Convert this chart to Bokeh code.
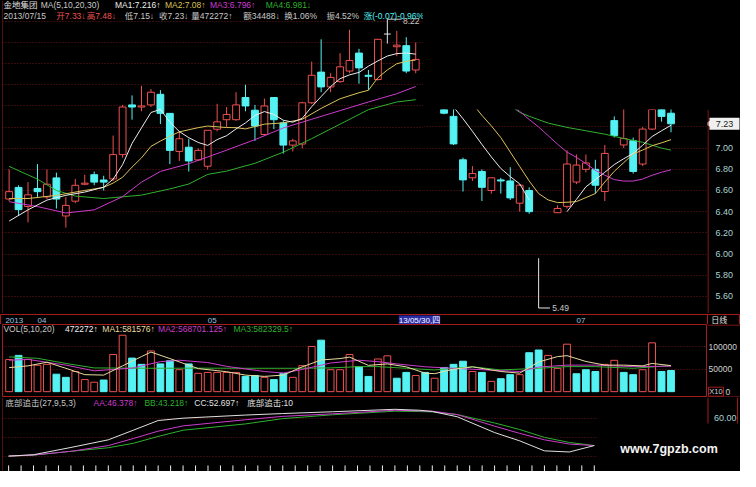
import math
from bokeh.plotting import figure
from bokeh.layouts import column, row
from bokeh.models import (ColumnDataSource, Range1d, FixedTicker, Grid, Label, Span)
from bokeh.embed import file_html
from bokeh.resources import INLINE
from bokeh.core.properties import value

nan = float("nan")

# ======================= data =======================
stock_name = "金地集团"
last_date = "2013/07/15"
amount_last = 34488
turnover_last = 1.06

opens = [
    6.52, 6.63, 6.45, 6.62, 6.54, 6.72, 6.36, 6.50, 6.66, 6.75,
    6.70, 6.71, 6.94, 7.41, 7.39, 7.41, 7.51, 7.33, 6.97, 7.01,
    6.89, 6.83, 7.18, 7.27, 7.27, 7.48, 7.36, 7.13, 7.48, 7.24,
    7.03, 7.04, 7.43, 7.72, 7.58, 7.63, 7.73, 7.90, 7.69, 7.65,
    8.08, 7.96, 7.97, 7.74, nan, nan, 7.40, 7.30, 6.89, 6.72,
    6.78, 6.60, 6.70, 6.69, 6.48, 6.60, nan, nan, 6.39, 6.45,
    6.68, 6.80, 6.80, 6.59, 7.26, 7.03, 7.07, 6.85, 7.18, 7.52,
    7.33]
highs = [
    6.80, 6.65, 6.68, 6.85, 6.80, 6.77, 6.54, 6.71, 6.75, 6.78,
    6.74, 7.12, 7.41, 7.50, 7.59, 7.56, 7.55, 7.33, 7.16, 7.09,
    7.00, 7.17, 7.42, 7.39, 7.53, 7.60, 7.41, 7.47, 7.48, 7.26,
    7.09, 7.44, 7.82, 8.03, 7.71, 7.90, 8.12, 7.94, 7.74, 8.03,
    8.22, 8.11, 8.05, 8.00, nan, nan, 7.42, 7.40, 6.91, 6.83,
    6.80, 6.72, 6.72, 6.82, 6.66, 6.63, nan, nan, 6.46, 6.98,
    6.94, 6.94, 6.89, 7.03, 7.30, 7.40, 7.10, 7.20, 7.60, 7.55,
    7.48]
lows = [
    6.50, 6.36, 6.30, 6.54, 6.52, 6.43, 6.25, 6.48, 6.65, 6.65,
    6.60, 6.69, 6.91, 7.27, 7.35, 7.39, 7.23, 6.85, 6.88, 6.78,
    6.88, 6.80, 7.16, 7.20, 7.26, 7.35, 7.07, 7.12, 7.18, 6.95,
    6.97, 7.00, 7.42, 7.53, 7.53, 7.62, 7.71, 7.61, 7.55, 7.64,
    7.99, 7.87, 7.71, 7.71, nan, nan, 7.32, 7.03, 6.59, 6.69,
    6.50, 6.57, 6.57, 6.51, 6.40, 6.38, 5.49, nan, 6.39, 6.43,
    6.66, 6.77, 6.57, 6.50, 7.10, 7.00, 6.76, 6.83, 7.17, 7.25,
    7.15]
closes = [
    6.59, 6.42, 6.56, 6.59, 6.66, 6.52, 6.46, 6.65, 6.67, 6.68,
    6.68, 6.94, 7.39, 7.39, 7.40, 7.53, 7.33, 6.98, 7.09, 6.88,
    6.98, 7.17, 7.25, 7.32, 7.41, 7.40, 7.21, 7.40, 7.27, 7.03,
    7.07, 7.43, 7.69, 7.58, 7.67, 7.77, 7.83, 7.76, 7.68, 8.03,
    8.08, 7.975, 7.73, 7.84, nan, nan, 7.33, 7.04, 6.70, 6.76,
    6.63, 6.72, 6.69, 6.53, 6.65, 6.40, nan, nan, 6.43, 6.85,
    6.84, 6.86, 6.65, 6.95, 7.12, 7.09, 6.78, 7.18, 7.55, 7.30,
    7.23]
low_wick_top = 5.96      # visible top of the lower shadow of the 5.49 day

volumes = [
    717000, 810000, 720000, 590000, 610000, 390000, 320000, 450000, 270000, 210000,
    260000, 830000, 1260000, 750000, 610000, 910000, 620000, 690000, 490000, 620000,
    410000, 430000, 430000, 430000, 430000, 340000, 360000, 320000, 270000, 410000,
    320000, 580000, 1010000, 1150000, 490000, 490000, 830000, 560000, 340000, 730000,
    800000, 300000, 430000, 360000, 430000, 300000, 540000, 610000, 680000, 450000,
    430000, 230000, 290000, 380000, 380000, 870000, 930000, 810000, 520000, 1060000,
    400000, 490000, 450000, 610000, 700000, 430000, 380000, 490000, 1090000, 450000,
    472272]
vol_up = [
    1, 0, 1, 1, 1, 0, 0, 1, 1, 1,
    0, 1, 1, 0, 0, 1, 0, 0, 1, 0,
    1, 1, 1, 1, 1, 0, 0, 1, 0, 0,
    1, 1, 1, 0, 1, 1, 1, 0, 0, 1,
    1, 0, 0, 1, 0, 1, 0, 0, 0, 1,
    0, 1, 0, 0, 1, 0, 0, 1, 1, 1,
    0, 0, 0, 1, 1, 0, 0, 1, 1, 0,
    0]

# price moving averages (nan = hidden)
ma5_bars = [0, 2, 4, 6, 8, 10, 11, 12, 13, 14, 15, 16, 17, 18, 19, 20, 21, 22, 23, 24,
            25, 26, 27, 28, 29, 30, 31, 32, 33, 34, 35, 36, 37, 38, 39, 40, 41, 42, 43,
            nan, 47, 48, 49, 50, 51, 52, 53, 54, 55,
            nan, 59, 60, 61, 62, 63, 64, 65, 66, 67, 68, 69, 70]
ma5_vals = [6.312, 6.418, 6.510, 6.555, 6.586, 6.632, 6.708, 6.845, 7.046, 7.193, 7.338, 7.368,
            7.247, 7.158, 7.100, 7.055, 7.027, 7.082, 7.119, 7.183, 7.240, 7.310, 7.347, 7.320,
            7.265, 7.247, 7.283, 7.393, 7.489, 7.584, 7.658, 7.694, 7.717, 7.776, 7.826, 7.872,
            7.895, 7.900, 7.890,
            nan, 7.390, 7.278, 7.159, 7.035, 6.917, 6.808, 6.731, 6.662, 6.511,
            nan, 6.400, 6.516, 6.635, 6.703, 6.772, 6.845, 6.900, 6.950, 7.027, 7.110, 7.164, 7.216]
ma10_bars = [0, 2, 5, 8, 10, 11, 12, 13, 14, 15, 16, 17, 18, 20, 21, 23, 24, 25, 27, 29,
             31, 33, 35, 37, 38, 39, 40, 41, 42, 43,
             nan, 49, 50, 51, 52, 53, 54, 55, 56, 57, 58, 59, 60, 62, 63, 64, 65, 66, 67, 68, 69, 70]
ma10_vals = [6.525, 6.525, 6.555, 6.601, 6.630, 6.671, 6.726, 6.822, 6.909, 7.018, 7.068, 7.114,
             7.155, 7.195, 7.210, 7.196, 7.195, 7.183, 7.228, 7.240, 7.274, 7.377, 7.468, 7.525,
             7.548, 7.667, 7.740, 7.799, 7.822, 7.834,
             nan, 7.42, 7.31, 7.21, 7.10, 6.963, 6.826, 6.69, 6.571, 6.511, 6.486, 6.489, 6.495,
             6.571, 6.68, 6.781, 6.863, 6.945, 6.982, 7.023, 7.05, 7.08]
ma20_bars = [0, 3, 6, 9, 12, 14, 16, 19, 21, 23, 26, 29, 32, 35, 38, 41, 43,
             nan, 53, 54, 55, 56, 57, 58, 59, 60, 61, 62, 63, 64, 65, 66, 67, 68, 69, 70]
ma20_vals = [6.495, 6.449, 6.388, 6.418, 6.543, 6.680, 6.781, 6.854, 6.918, 6.982, 7.082, 7.192,
             7.274, 7.356, 7.438, 7.516, 7.584,
             nan, 7.41, 7.347, 7.271, 7.20, 7.119, 7.037, 6.963, 6.913, 6.854, 6.79, 6.744, 6.703,
             6.689, 6.689, 6.708, 6.744, 6.772, 6.796]
ma30_bars = [0, 3, 5, 7, 10, 14, 17, 19, 21, 23, 26, 29, 32, 35, 38, 41, 43,
             nan, 53, 54, 55, 57, 59, 61, 63, 65, 67, 69, 70]
ma30_vals = [6.829, 6.708, 6.601, 6.548, 6.525, 6.557, 6.616, 6.662, 6.753, 6.784, 6.858, 6.963,
             7.091, 7.228, 7.365, 7.438, 7.459,
             nan, 7.40, 7.338, 7.301, 7.237, 7.196, 7.164, 7.132, 7.091, 7.055, 7.00, 6.981]

# volume moving averages (raw units; the axis shows them /10)
vma5_bars = [0, 2, 4, 6, 8, 10, 12, 14, 15, 17, 20, 23, 25, 27, 29, 31, 33, 35, 36, 38,
             40, 42, 44, 45, 47, 49, 52, 54, 56, 58, 59, 61, 63, 65, 67, 68, 70]
vma5_vals = [537000, 576000, 657000, 522000, 380000, 370000, 576000, 783000, 885000, 739000,
             515000, 446000, 370000, 341000, 370000, 554000, 707000, 739000, 772000, 587000,
             620000, 554000, 413000, 402000, 500000, 554000, 450000, 413000, 663000, 783000,
             804000, 674000, 593000, 593000, 576000, 630000, 581576]
vma10_bars = [0, 2, 6, 9, 13, 16, 18, 21, 23, 27, 29, 31, 34, 37, 39, 41, 44, 47, 51, 54,
              56, 59, 62, 66, 70]
vma10_vals = [702000, 720000, 593000, 465000, 525000, 670000, 702000, 650000, 565000, 450000,
              415000, 495000, 640000, 702000, 670000, 620000, 555000, 522000, 480000, 450000,
              550000, 593000, 593000, 559000, 568701.125]
vma20_bars = [0, 3, 6, 9, 15, 20, 25, 30, 34, 37, 39, 42, 45, 49, 52, 56, 59, 62, 66, 70]
vma20_vals = [776000, 745000, 630000, 530000, 522000, 525000, 522000, 522000, 530000, 559000,
              559000, 522000, 485000, 555000, 485000, 522000, 559000, 559000, 522000, 582329.5]

# "底部追击" indicator panel (its own bar spacing in the picture)
ind_bars = [0, 2, 5, 8, 10, 12, 14, 19, 22, 26, 31, 33, 34, 36, 39, 41, 43, 45, 47]
ind_aa = [19.9, 21.1, 25.0, 31.1, 38.6, 46.4, 52.0, 58.5, 62.1, 64.8, 68.6, 67.9, 67.6, 64.0,
          51.7, 44.1, 37.2, 32.7, 31.1]
ind_bb = [19.9, 20.9, 25.0, 28.8, 33.5, 40.8, 47.4, 54.1, 59.7, 63.8, 67.6, 67.2, 66.9, 64.0,
          55.1, 48.2, 39.8, 34.4, 31.1]
ind_cc = [19.9, 21.4, 29.1, 37.2, 47.4, 57.7, 60.2, 63.5, 65.1, 67.0, 69.6, 68.6, 67.3, 61.7,
          44.9, 36.2, 25.5, 24.3, 31.1]
stick_bars = [0, 1, 2, 3, 4, 5, 6, 7, 8, 9, 10, 11, 12, 13, 14, 15, 16, 17, 18, 19, 20, 21, 22, 23,
              24, 25, 26, 27, 28, 29, 30, 31, 32, 33, 34, 35, 36, 37, 38, 39, 40, 41, 42, 43, 44,
              45, 46, 47]
stick_vals = [10, 10, 10, 10, 10, 10, 10, 10, 10, 10, 10, 10, 10, 10, 10, 10, 10, 10, 10, 10, 10,
              10, 10, 10, 10, 10, 10, 10, 10, 10, 10, 10, 10, 10, 10, 10, 10, 10, 10, 10, 10, 10,
              10, 10, 10, 10, 10, 10]
ind_last = [46.378, 43.218, 52.697, 10]

price_axis_ticks = [5.60, 5.80, 6.00, 6.20, 6.40, 6.60, 6.80, 7.00]
price_grid_ticks = [5.6, 5.8, 6.0, 6.2, 6.4, 6.6, 6.8, 7.0, 7.2, 7.4, 7.6, 7.8, 8.0, 8.2]
vol_axis_ticks = [50000, 100000]
ind_axis_ticks = [60]
ind_grid_ticks = [20, 40, 60]
month_bars = [3, 21, 60]
month_text = ["04", "05", "07"]
cursor_bar = 41
cursor_text = "13/05/30,四"

# ============================== style / layout ==============================
BG = "#000000"
FRAME = "#a51c1c"
GRIDC = "#6a1616"
UP = "#ee5050"
DOWN = "#54f2f2"
FLAT = "#e6e6e6"
C_MA1 = "#ececec"
C_MA2 = "#dcc35a"
C_MA3 = "#cc3ccc"
C_MA4 = "#2fb02f"
C_VMA1 = "#e8dca0"
TXT = "#c8c8c8"
AX_TXT = "#a9d2d2"
DATE_TXT = "#98c4e0"
FONT = "'Liberation Sans', 'Noto Sans CJK SC'"
FS = "8.5px"
BLACK_BOX = {"background-color": "#000000"}

SX = 740 / 756
SY = 471 / 487
PITCH = 9.66 * SX
X0 = -0.7
LEFT = 2
AXIS_W = 33
FULL_W = 740
PRICE_H = 313
DATE_H = 11
VOL_H = 73
IND_H = 74
CUT_TOP = 109
SPLIT_X = 423
IND_CUT_X = 597
IND_PITCH = 12.73 * SX
IND_FIRST = 8.3 * SX
BODY = 0.72
DATA_R = FULL_W - AXIS_W      # right edge of the plotting areas

PRICE_LO, PRICE_HI, PRICE_CUT = 5.438, 8.397, 7.365
VOL_LO, VOL_HI = -13043, 150000
IND_LO, IND_HI = 3.57, 82.14


def xr(c0, c1):
    return Range1d((c0 - LEFT) / PITCH + X0, (c1 - LEFT) / PITCH + X0)


def panel(fw, fh, x_range, y_range, left=0, right=0):
    p = figure(frame_width=fw, frame_height=fh, x_range=x_range, y_range=y_range,
               title=None, output_backend="svg", toolbar_location=None,
               x_axis_location=None, y_axis_location=None,
               min_border_left=left, min_border_right=right,
               min_border_top=0, min_border_bottom=0,
               background_fill_color=BG, border_fill_color=BG, outline_line_color=None,
               styles=BLACK_BOX)
    p.xgrid.visible = False
    p.ygrid.visible = False
    return p


def hgrid(p, ticks):
    p.add_layout(Grid(dimension=1, ticker=FixedTicker(ticks=ticks), grid_line_color=GRIDC,
                      grid_line_dash="1 2", grid_line_width=1))


def label(p, x, y, text, color, xu="screen", yu="screen", size=FS, align="left",
          style="normal", **kw):
    p.add_layout(Label(x=x, y=y, x_units=xu, y_units=yu, text=text, text_color=color,
                       text_font=FONT, text_font_size=size, text_align=align,
                       text_baseline="middle", text_font_style=style, **kw))


def texts(p, xs, ys, strs, color, size=FS, align="left", dy=0):
    p.text(x=xs, y=ys, text=strs, text_color=color, text_font=value(FONT),
           text_font_size=value(size), text_baseline="middle", text_align=align, y_offset=dy)


def pieces(xs, ys):
    """split a sampled line at its nan gaps"""
    out_x, out_y, cx, cy = [], [], [], []
    for x, y in zip(xs, ys):
        if math.isnan(x) or math.isnan(y):
            if cx:
                out_x.append(cx)
                out_y.append(cy)
            cx, cy = [], []
        else:
            cx.append(x)
            cy.append(y)
    if cx:
        out_x.append(cx)
        out_y.append(cy)
    return out_x, out_y


def fmt(v, nd=3):
    return f"{v:.{nd}f}".rstrip("0").rstrip(".")


n = len(closes)


def subset(cond):
    ids = [i for i in range(n) if cond(i)]
    return ColumnDataSource(dict(x=ids, o=[opens[i] for i in ids], h=[highs[i] for i in ids],
                                 l=[lows[i] for i in ids], c=[closes[i] for i in ids],
                                 x0=[i - BODY / 2 for i in ids], x1=[i + BODY / 2 for i in ids]))


def visible(rng):
    return lambda i: rng.start - 0.5 <= i <= rng.end + 0.5


ma_sources = [(ma30_bars, ma30_vals, C_MA4), (ma20_bars, ma20_vals, C_MA3),
              (ma10_bars, ma10_vals, C_MA2), (ma5_bars, ma5_vals, C_MA1)]

hi_i = max((i for i in range(n) if not math.isnan(highs[i])), key=lambda i: highs[i])
lo_i = min((i for i in range(n) if not math.isnan(lows[i])), key=lambda i: lows[i])


def draw_price(p):
    hgrid(p, price_grid_ticks)
    inside = visible(p.x_range)
    up_src = subset(lambda i: inside(i) and closes[i] > opens[i])
    dn_src = subset(lambda i: inside(i) and closes[i] < opens[i])
    eq_src = subset(lambda i: inside(i) and closes[i] == opens[i])
    p.segment(x0="x", y0="h", x1="x", y1="l", source=up_src, line_color=UP, line_width=1)
    p.vbar(x="x", width=BODY, bottom="o", top="c", source=up_src, fill_color=BG,
           line_color=UP, line_width=1)
    p.segment(x0="x", y0="h", x1="x", y1="l", source=dn_src, line_color=DOWN, line_width=1)
    p.vbar(x="x", width=BODY, bottom="c", top="o", source=dn_src, fill_color=DOWN,
           line_color=DOWN, line_width=1)
    p.segment(x0="x", y0="h", x1="x", y1="l", source=eq_src, line_color=FLAT, line_width=1)
    p.segment(x0="x0", y0="o", x1="x1", y1="o", source=eq_src, line_color=FLAT, line_width=1)
    for bars, vals, col in ma_sources:
        segs_x, segs_y = pieces(bars, vals)
        keep = [k for k in range(len(segs_x))
                if any(inside(x) for x in segs_x[k])]
        p.multi_line([segs_x[k] for k in keep], [segs_y[k] for k in keep],
                     line_color=col, line_width=1)


# ------------------------------ price panel ------------------------------
price_left = panel(SPLIT_X - LEFT, PRICE_H, xr(LEFT, SPLIT_X), Range1d(PRICE_LO, PRICE_HI),
                   left=LEFT)
draw_price(price_left)
price_left.add_layout(Span(location=price_left.x_range.start, dimension="height",
                           line_color=FRAME, line_width=1))
# highest-price marker
price_left.segment(x0=[hi_i], y0=[highs[hi_i]], x1=[hi_i + 1.5], y1=[highs[hi_i]],
                   line_color=TXT, line_width=1)
texts(price_left, [hi_i + 1.65], [highs[hi_i]], [f"{highs[hi_i]:.2f}"], TXT, dy=2)

head1 = [
    (stock_name, "#e0e0e0", 3),
    ("MA(5,10,20,30)", TXT, 41),
    (f"MA1:{fmt(ma5_vals[-1])}↑", C_MA1, 117),
    (f"MA2:{fmt(ma10_vals[-1])}↑", C_MA2, 168),
    (f"MA3:{fmt(ma20_vals[-1])}↑", C_MA3, 214),
    (f"MA4:{fmt(ma30_vals[-1])}↓", C_MA4, 271),
]
chg = closes[-1] - closes[-2]
head2 = [
    (last_date, TXT, 3),
    (f"开{opens[-1]:.2f}↓", UP, 57),
    (f"高{highs[-1]:.2f}↓", UP, 88),
    (f"低{lows[-1]:.2f}↓", TXT, 127),
    (f"收{closes[-1]:.2f}↓", TXT, 162),
    (f"量{volumes[-1]}↑", TXT, 195),
    (f"额{amount_last}↓", TXT, 248),
    (f"换{turnover_last:.2f}%", TXT, 290),
    (f"振{(highs[-1] - lows[-1]) / closes[-2] * 100:.2f}%", TXT, 333),
    (f"涨({chg:.2f}){chg / closes[-2] * 100:.2f}%", DOWN, 371),
]
for txt, col, rx in head1:
    label(price_left, rx * SX - LEFT, PRICE_H - 5 * SY, txt, col)
for txt, col, rx in head2:
    label(price_left, rx * SX - LEFT, PRICE_H - 16 * SY, txt, col)

blank_top = panel(FULL_W - SPLIT_X, CUT_TOP, Range1d(0, 1), Range1d(0, 1))

RIGHT_H = PRICE_H - CUT_TOP
price_right = panel(DATA_R - SPLIT_X, RIGHT_H, xr(SPLIT_X, DATA_R),
                    Range1d(PRICE_LO, PRICE_CUT))
draw_price(price_right)
# lowest-price marker
price_right.segment(x0=[lo_i], y0=[low_wick_top], x1=[lo_i], y1=[lows[lo_i]],
                    line_color=FLAT, line_width=1)
price_right.segment(x0=[lo_i], y0=[lows[lo_i]], x1=[lo_i + 1.2], y1=[lows[lo_i]],
                    line_color=FLAT, line_width=1)
texts(price_right, [lo_i + 1.45], [lows[lo_i]], [f"{lows[lo_i]:.2f}"], TXT)

# price scale strip (x units = pixels)
price_axis = panel(AXIS_W, RIGHT_H, Range1d(0, AXIS_W), Range1d(PRICE_LO, PRICE_CUT))
price_axis.add_layout(Span(location=0.5, dimension="height", line_color=FRAME, line_width=1))
texts(price_axis, [8] * len(price_axis_ticks), price_axis_ticks,
      [f"{t:.2f}" for t in price_axis_ticks], AX_TXT, size="9px")
price_axis.rect(x=[17], y=[closes[-1]], width=30, height=12, width_units="screen",
                height_units="screen", fill_color="#f0f0f0", line_color=None)
price_axis.scatter(x=[2.5], y=[closes[-1]], marker="triangle", size=9, angle=math.pi / 2,
                   fill_color="#f0f0f0", line_color=None)
texts(price_axis, [17], [closes[-1]], [f"{closes[-1]:.2f}"], "#202020", size="9px",
      align="center")

# ------------------------------ date row ------------------------------
date_fig = panel(FULL_W, DATE_H, xr(0, FULL_W), Range1d(0, 1))
date_fig.outline_line_color = FRAME
date_fig.add_layout(Span(location=(DATA_R - LEFT) / PITCH + X0, dimension="height",
                         line_color=FRAME, line_width=1))
texts(date_fig, month_bars, [0.5] * len(month_bars), month_text, DATE_TXT, size="8px")
label(date_fig, 5 * SX, DATE_H / 2, "2013", DATE_TXT, size="8px")
label(date_fig, cursor_bar, DATE_H / 2, cursor_text, "#ffffff", xu="data", size="8px",
      x_offset=2, background_fill_color="#2c2ca8")
label(date_fig, 726 * SX, DATE_H / 2, "日线", "#e0e0e0", size="8px")

# ------------------------------ volume panel ------------------------------
vol_fig = panel(DATA_R - LEFT, VOL_H, xr(LEFT, DATA_R), Range1d(VOL_LO, VOL_HI), left=LEFT)
vol_fig.outline_line_color = FRAME
hgrid(vol_fig, vol_axis_ticks)
vu = [i for i in range(n) if vol_up[i] == 1]
vd = [i for i in range(n) if vol_up[i] == 0]
vol_fig.vbar(x=vu, top=[volumes[i] / 10 for i in vu], bottom=0, width=BODY,
             fill_color=BG, line_color=UP, line_width=1)
vol_fig.vbar(x=vd, top=[volumes[i] / 10 for i in vd], bottom=0, width=BODY,
             fill_color=DOWN, line_color=DOWN, line_width=1)
for bars, vals, col in [(vma20_bars, vma20_vals, C_MA4), (vma10_bars, vma10_vals, C_MA3),
                        (vma5_bars, vma5_vals, C_VMA1)]:
    vol_fig.line(bars, [v / 10 for v in vals], line_color=col, line_width=1)
vhead = [
    ("VOL(5,10,20)", TXT, 3),
    (f"{volumes[-1]}↑", "#f0f0f0", 66),
    (f"MA1:{fmt(vma5_vals[-1])}↑", C_VMA1, 104),
    (f"MA2:{fmt(vma10_vals[-1])}↑", C_MA3, 161),
    (f"MA3:{fmt(vma20_vals[-1])}↑", C_MA4, 238),
]
for txt, col, rx in vhead:
    label(vol_fig, rx * SX - LEFT, VOL_H - 5 * SY, txt, col)

vol_axis = panel(AXIS_W, VOL_H, Range1d(0, AXIS_W), Range1d(VOL_LO, VOL_HI))
px_v = (VOL_HI - VOL_LO) / VOL_H
vol_axis.add_layout(Span(location=VOL_HI - 0.5 * px_v, dimension="width", line_color=FRAME,
                         line_width=1))
vol_axis.add_layout(Span(location=VOL_LO + 0.5 * px_v, dimension="width", line_color=FRAME,
                         line_width=1))
texts(vol_axis, [1] * len(vol_axis_ticks), vol_axis_ticks,
      [f"{t:d}" for t in vol_axis_ticks], "#d0d0d0", size="8.5px")
vol_axis.rect(x=[8.5], y=[0], width=15, height=9, width_units="screen", height_units="screen",
              fill_color=None, line_color=FRAME, line_width=1)
texts(vol_axis, [8.5], [0], ["X10"], "#d0d0d0", size="7.5px", align="center")
texts(vol_axis, [18], [0], ["0"], "#d0d0d0", size="8.5px")

# ------------------------------ indicator panel ------------------------------
ind_fig = panel(IND_CUT_X - LEFT, IND_H,
                Range1d((LEFT - IND_FIRST) / IND_PITCH, (IND_CUT_X - IND_FIRST) / IND_PITCH),
                Range1d(IND_LO, IND_HI), left=LEFT)
hgrid(ind_fig, ind_grid_ticks)
ind_fig.add_layout(Span(location=ind_fig.x_range.start, dimension="height",
                        line_color=FRAME, line_width=1))
ind_fig.segment(x0=stick_bars, y0=[0] * len(stick_bars), x1=stick_bars, y1=stick_vals,
                line_color="#f0f0f0", line_width=1)
ind_fig.line(ind_bars, ind_bb, line_color=C_MA4, line_width=1)
ind_fig.line(ind_bars, ind_aa, line_color=C_MA3, line_width=1)
ind_fig.line(ind_bars, ind_cc, line_color="#e0e0e0", line_width=1)
ihead = [
    ("底部追击(27,9,5,3)", TXT, 5),
    (f"AA:{ind_last[0]:.3f}↑", C_MA3, 95),
    (f"BB:{ind_last[1]:.3f}↑", C_MA4, 147),
    (f"CC:{ind_last[2]:.3f}↑", "#e0e0e0", 198),
    (f"底部追击:{ind_last[3]}", "#e0e0e0", 252),
]
for txt, col, rx in ihead:
    label(ind_fig, rx * SX - LEFT, IND_H - 6 * SY, txt, col)

# right end of the indicator strip (x units = pixels from IND_CUT_X)
IR_W = FULL_W - IND_CUT_X
ind_right = panel(IR_W, IND_H, Range1d(0, IR_W), Range1d(IND_LO, IND_HI))
box_l = DATA_R - IND_CUT_X + 0.5
box_r = 753 * SX - IND_CUT_X
ind_right.segment(x0=[box_l, box_r], y0=[54.6, 54.6], x1=[box_l, box_r], y1=[IND_HI, IND_HI],
                  line_color=FRAME, line_width=1)
texts(ind_right, [box_l + 6], ind_axis_ticks, [f"{t:.2f}" for t in ind_axis_ticks], AX_TXT,
      size="9px")
label(ind_right, 683 * SX - IND_CUT_X, IND_H - 53 * SY, "www.7gpzb.com", "#f4f4f4",
      size="12.5px", align="center", style="bold")

layout = column(
    row(price_left,
        column(blank_top, row(price_right, price_axis, styles=BLACK_BOX), styles=BLACK_BOX),
        styles=BLACK_BOX),
    date_fig,
    row(vol_fig, vol_axis, styles=BLACK_BOX),
    row(ind_fig, ind_right, styles=BLACK_BOX),
    styles=BLACK_BOX,
)

open("out.html", "w").write(file_html(layout, INLINE))
